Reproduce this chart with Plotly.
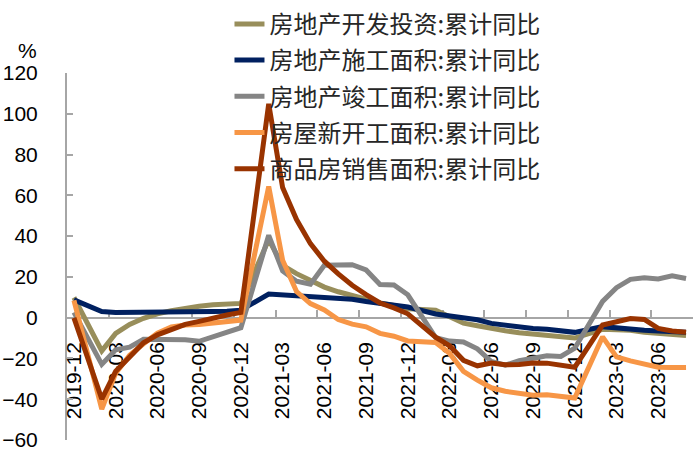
import plotly.graph_objects as go

# Monthly categories, 2019-12 .. 2023-08 (January figures are not published separately)
months = [f"{y}-{m:02d}" for y in range(2019, 2024) for m in range(1, 13)]
months = months[months.index("2019-12"):months.index("2023-08") + 1]

# Cumulative year-on-year growth, %
invest = [9.9, None, -16.3, -7.7, -3.3, -0.3, 1.9, 3.4, 4.6, 5.6, 6.3, 6.8, 7.0,
          None, 38.3, 25.6, 21.6, 18.3, 15.0, 12.7, 10.9, 8.8, 7.2, 6.0, 4.4,
          None, 3.7, 0.7, -2.7, -4.0, -5.4, -6.4, -7.4, -8.0, -8.8, -9.8, -10.0,
          None, -5.7, -5.8, -6.2, -7.2, -7.9, -8.5, -8.8]
under_constr = [8.7, None, 3.0, 2.5, 2.5, 2.6, 2.6, 2.8, 3.1, 3.1, 3.0, 3.2, 3.7,
                None, 11.6, 11.2, 10.5, 10.1, 10.2, 9.7, 9.0, 7.9, 7.0, 6.1, 5.2,
                None, 1.8, 1.0, -0.2, -1.0, -2.8, -3.7, -4.5, -5.3, -5.7, -6.5, -7.2,
                None, -4.4, -5.2, -5.6, -6.2, -6.6, -6.8, -7.1]
completed = [2.6, None, -22.9, -15.8, -14.5, -10.6, -10.5, -10.5, -10.8, -11.6, -9.2, -7.3, -4.9,
             None, 40.4, 22.9, 17.9, 16.4, 25.7, 25.7, 26.0, 23.4, 16.3, 16.0, 11.2,
             None, -9.8, -11.5, -11.9, -15.3, -21.5, -23.3, -21.1, -19.9, -18.7, -19.0, -15.0,
             None, 8.0, 14.7, 18.8, 19.6, 19.0, 20.5, 19.2]
new_starts = [8.5, None, -44.9, -27.2, -18.4, -12.8, -7.6, -4.5, -3.6, -3.4, -2.6, -2.0, -1.2,
              None, 64.3, 28.2, 12.8, 6.9, 3.8, -0.9, -3.2, -4.5, -7.7, -9.1, -11.4,
              None, -12.2, -17.5, -26.3, -30.6, -34.4, -36.1, -37.2, -38.0, -37.8, -38.9, -39.4,
              None, -9.4, -19.2, -21.2, -22.6, -24.3, -24.5, -24.4]
sales = [-0.1, None, -39.9, -26.3, -19.3, -12.3, -8.4, -5.8, -3.3, -1.8, 0.0, 1.3, 2.6,
         None, 104.9, 63.8, 48.1, 36.3, 27.7, 21.5, 15.9, 11.3, 7.2, 4.8, 1.9,
         None, -9.6, -13.8, -20.9, -23.6, -22.2, -23.1, -23.0, -22.2, -22.3, -23.3, -24.3,
         None, -3.6, -1.8, -0.4, -0.9, -5.3, -6.5, -7.1]

names = ["房地产开发投资:累计同比", "房地产施工面积:累计同比", "房地产竣工面积:累计同比",
         "房屋新开工面积:累计同比", "商品房销售面积:累计同比"]
series = [invest, under_constr, completed, new_starts, sales]
colors = ["#988E5B", "#002060", "#858585", "#F79646", "#993300"]

y_ticks = list(range(-60, 121, 20))

fig = go.Figure()
for i, (name, vals, col) in enumerate(zip(names, series, colors)):
    fig.add_trace(go.Scatter(
        x=months, y=vals, name=name, mode="lines", connectgaps=True,
        line=dict(color=col, width=5), legendgroup=f"g{i}",
    ))

axis_col = "#A6A6A6"
fig.update_layout(
    width=695, height=453,
    margin=dict(l=65, r=2, t=70, b=12),
    plot_bgcolor="white", paper_bgcolor="white",
    font=dict(family="Liberation Sans, Arial, sans-serif", size=21, color="#000000"),
    showlegend=True,
    legend=dict(
        x=(228 - 65) / 628, xanchor="left",
        y=(441 + 2) / 371, yanchor="top",
        bgcolor="rgba(0,0,0,0)",
        font=dict(family="Noto Sans CJK SC", size=24, color="#262626"),
        tracegroupgap=2,
    ),
    xaxis=dict(
        type="category", range=[-0.5, len(months) - 0.5],
        dtick=3, tick0=0, tickson="boundaries",
        tickangle=-90, ticks="inside", ticklen=7, tickwidth=2, tickcolor=axis_col,
        showline=True, linecolor=axis_col, linewidth=2,
        showgrid=False, zeroline=False,
        anchor="free", position=60 / 180,
        ticklabelstandoff=15, layer="below traces",
    ),
    yaxis=dict(
        range=[-60, 120], tickvals=y_ticks,
        ticks="inside", ticklen=6, tickwidth=2, tickcolor=axis_col,
        showline=True, linecolor=axis_col, linewidth=2,
        showgrid=False, zeroline=False,
        ticklabelstandoff=23, layer="below traces",
    ),
    annotations=[dict(
        text="%", xref="paper", yref="paper",
        x=(25 - 65) / 628, y=(441 - 47) / 371,
        xanchor="center", yanchor="middle",
        showarrow=False, font=dict(size=21),
    )],
)

fig.write_html("out.html")
